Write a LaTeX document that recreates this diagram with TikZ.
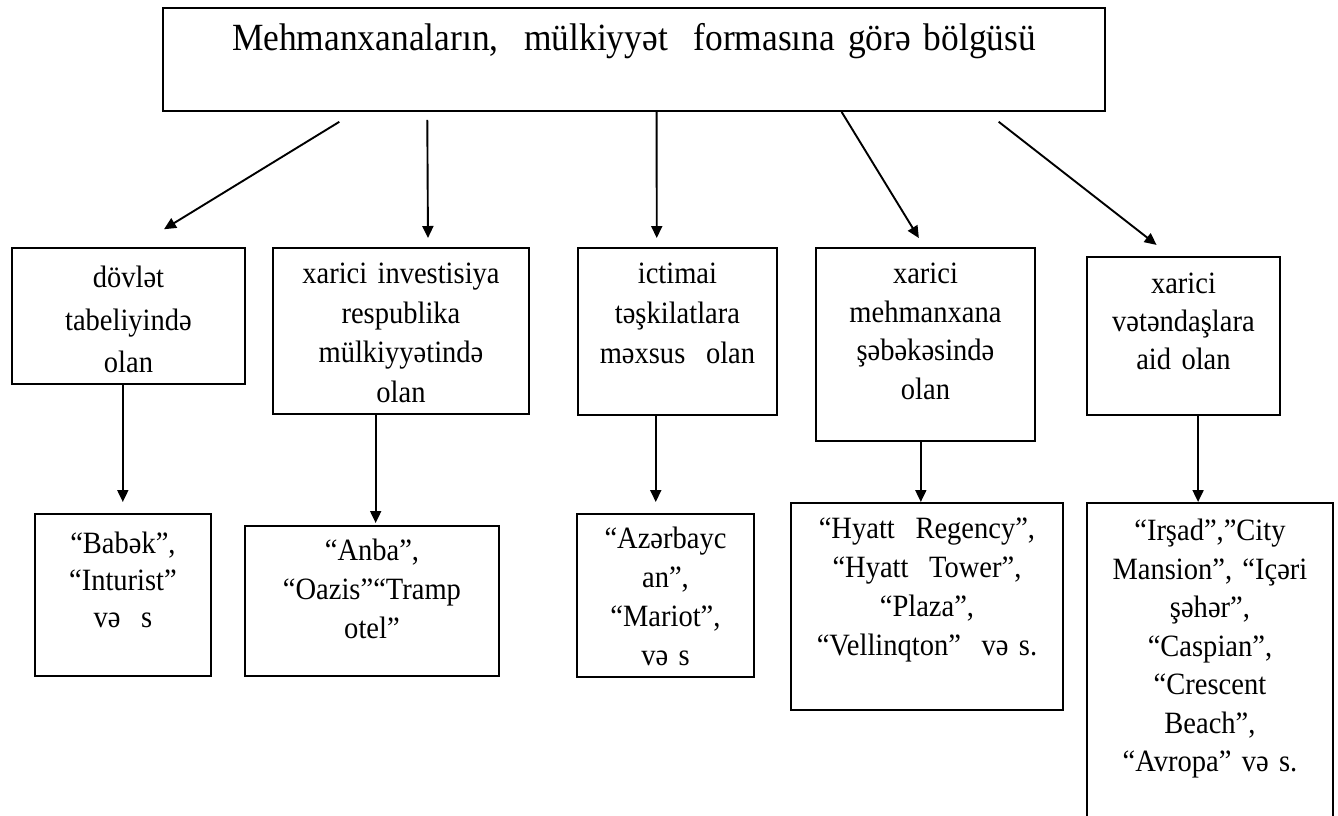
\documentclass[tikz,border=0pt]{standalone}
\usepackage{fontspec}
\setmainfont{Liberation Serif}[FakeStretch=0.92]
\usetikzlibrary{arrows.meta,calc}

\begin{document}
\begin{tikzpicture}
[x=1pt,y=-1pt,
  boxdecorate/.style={draw,line width=1.9pt,inner sep=0pt,anchor=north west,align=center,font=\fontsize{31}{39.5}\selectfont},%
  itemdecorate/.style={boxdecorate,font=\fontsize{31}{39}\selectfont},%
  arrowdecorate/.style={-{Triangle[length=12pt,width=11pt]},line width=1.9pt}]
\useasboundingbox (0,0) rectangle (1338,815);
\clip (0,0) rectangle (1338,815);
% title box
\node (top) at (162,7) [boxdecorate,text width=942pt,text height=43pt,text depth=60pt,font=\fontsize{38.5}{44}\selectfont] {Mehmanxanaların,~ mülkiyyət~ formasına görə bölgüsü};
% forms of ownership
\node (dov) at (11,247) [boxdecorate,text width=233pt,text height=40pt,text depth=96pt,font=\fontsize{31}{42.5}\selectfont] {dövlət\\tabeliyində\\olan};
\node (xar) at (272,247) [boxdecorate,text width=256pt,text height=36pt,text depth=130pt] {xarici investisiya\\respublika\\mülkiyyətində\\olan};
\node (ict) at (577,247) [boxdecorate,text width=199pt,text height=36pt,text depth=131pt,font=\fontsize{31}{40}\selectfont] {ictimai\\təşkilatlara\\məxsus~ olan};
\node (meh) at (815,247) [boxdecorate,text width=219pt,text height=36pt,text depth=157pt,font=\fontsize{31}{38.5}\selectfont] {xarici\\mehmanxana\\şəbəkəsində\\olan};
\node (vet) at (1086,256) [boxdecorate,text width=193pt,text height=37pt,text depth=121pt,font=\fontsize{31}{38}\selectfont] {xarici\\vətəndaşlara\\aid olan};
% hotels
\node (bab) at (34,513) [itemdecorate,text width=176pt,text height=40pt,text depth=122pt,font=\fontsize{31}{37}\selectfont] {“Babək”,\\“Inturist”\\və~ s};
\node (anb) at (244,525) [itemdecorate,text width=254pt,text height=35pt,text depth=115pt] {“Anba”,\\“Oazis”“Tramp\\otel”};
\node (aze) at (576,513) [itemdecorate,text width=177pt,text height=35pt,text depth=128pt] {“Azərbayc\\an”,\\“Mariot”,\\və s};
\node (hya) at (790,502) [itemdecorate,text width=272pt,text height=36pt,text depth=171pt] {“Hyatt~ Regency”,\\“Hyatt~ Tower”,\\“Plaza”,\\“Vellinqton”~ və s.};
\node (irs) at (1086,502) [itemdecorate,text width=246pt,text height=38pt,text depth=330pt,font=\fontsize{31}{38.5}\selectfont] {“Irşad”,”City\\Mansion”, “Içəri\\şəhər”,\\“Caspian”,\\“Crescent\\Beach”,\\“Avropa” və s.};
% feet of the lower arrows
\coordinate (d1) at ($(dov.south west)!.476!(dov.south east)$);
\coordinate (d2) at ($(xar.south west)!.402!(xar.south east)$);
\coordinate (d3) at ($(ict.south west)!.392!(ict.south east)$);
\coordinate (d4) at ($(meh.south west)!.479!(meh.south east)$);
\coordinate (d5) at ($(vet.south west)!.575!(vet.south east)$);
% edges or lines
\path
($(top.south west)!.205!(top.south east)$) edge[arrowdecorate,shorten <=19pt,shorten >=34pt] ($(dov.north west)!.528!(dov.north east)$)
($(top.south west)!.281!(top.south east)$) edge[arrowdecorate,shorten <=8pt,shorten >=9pt] ($(xar.north west)!.605!(xar.north east)$)
($(top.south west)!.524!(top.south east)$) edge[arrowdecorate,shorten >=9pt] ($(ict.north west)!.397!(ict.north east)$)
($(top.south west)!.720!(top.south east)$) edge[arrowdecorate,shorten >=10.5pt] ($(meh.north west)!.495!(meh.north east)$)
($(top.south west)!.873!(top.south east)$) edge[arrowdecorate,shorten <=16pt,shorten >=18pt] ($(vet.north west)!.435!(vet.north east)$)
(d1) edge[arrowdecorate,shorten >=11pt] (bab.north -| d1)
(d2) edge[arrowdecorate,shorten >=2pt] (anb.north -| d2)
(d3) edge[arrowdecorate,shorten >=11pt] (aze.north -| d3)
(d4) edge[arrowdecorate] (hya.north -| d4)
(d5) edge[arrowdecorate] (irs.north -| d5);
\end{tikzpicture}
\end{document}
